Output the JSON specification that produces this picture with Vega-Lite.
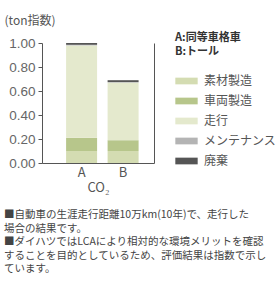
{
  "$schema": "https://vega.github.io/schema/vega-lite/v6.json",
  "autosize": {"type": "none"},
  "padding": {"left": 42, "top": 43, "right": 121, "bottom": 120},
  "width": 112,
  "height": 120,
  "background": "white",
  "config": {
    "font": "Noto Sans CJK JP",
    "view": {"stroke": null}
  },
  "title": {
    "text": [
      "■自動車の生涯走行距離10万km(10年)で、走行した",
      "場合の結果です。",
      "■ダイハツではLCAにより相対的な環境メリットを確認",
      "することを目的としているため、評価結果は指数で示し",
      "ています。"
    ],
    "orient": "bottom",
    "anchor": "start",
    "frame": "group",
    "dx": -38,
    "offset": 16,
    "fontSize": 10.5,
    "fontWeight": "normal",
    "color": "#444",
    "lineHeight": 13.6,
    "baseline": "top"
  },
  "data": {
    "values": [
      {"car": "A", "item": "素材製造", "ord": 1, "value": 0.10},
      {"car": "A", "item": "車両製造", "ord": 2, "value": 0.11},
      {"car": "A", "item": "走行", "ord": 3, "value": 0.77},
      {"car": "A", "item": "メンテナンス", "ord": 4, "value": 0.005},
      {"car": "A", "item": "廃棄", "ord": 5, "value": 0.015},
      {"car": "B", "item": "素材製造", "ord": 1, "value": 0.10},
      {"car": "B", "item": "車両製造", "ord": 2, "value": 0.09},
      {"car": "B", "item": "走行", "ord": 3, "value": 0.48},
      {"car": "B", "item": "メンテナンス", "ord": 4, "value": 0.005},
      {"car": "B", "item": "廃棄", "ord": 5, "value": 0.015}
    ]
  },
  "layer": [
    {
      "mark": {"type": "bar"},
      "encoding": {
        "x": {
          "field": "car",
          "type": "nominal",
          "scale": {"paddingInner": 0.253, "paddingOuter": 0.476, "align": 0.61},
          "axis": {
            "title": "CO₂",
            "titleFontSize": 13,
            "titleFontWeight": "normal",
            "titleColor": "#555",
            "titlePadding": 2,
            "labelAngle": 0,
            "labelFontSize": 13,
            "labelColor": "#555",
            "labelPadding": 3,
            "ticks": false,
            "domainColor": "#555",
            "domainWidth": 1
          }
        },
        "y": {
          "field": "value",
          "type": "quantitative",
          "stack": "zero",
          "scale": {"domain": [0, 1]},
          "axis": {
            "title": "(ton指数)",
            "titleAngle": 0,
            "titleAlign": "left",
            "titleBaseline": "middle",
            "titleX": -38,
            "titleY": -23,
            "titleFontSize": 12,
            "titleFontWeight": "normal",
            "titleColor": "#555",
            "values": [0, 0.2, 0.4, 0.6, 0.8, 1.0],
            "format": ".2f",
            "labelFontSize": 13.5,
            "labelColor": "#666",
            "labelFont": "Liberation Sans",
            "labelPadding": 3,
            "tickSize": 4,
            "tickColor": "#555",
            "domainColor": "#555",
            "grid": false
          }
        },
        "color": {
          "field": "item",
          "type": "nominal",
          "scale": {
            "domain": ["素材製造", "車両製造", "走行", "メンテナンス", "廃棄"],
            "range": ["#d4dcb2", "#b7c68b", "#e4e9cd", "#b4b4b4", "#555555"]
          },
          "legend": {
            "title": ["A:同等車格車", "B:トール"],
            "titleFontSize": 11,
            "titleFontWeight": "bold",
            "titleColor": "#333",
            "titleLineHeight": 13.5,
            "titlePadding": 13,
            "orient": "none",
            "legendX": 133,
            "legendY": -11,
            "symbolType": "M-1,-0.3H1V0.3H-1Z",
            "symbolSize": 500,
            "symbolStrokeWidth": 0,
            "labelFontSize": 12,
            "labelColor": "#555",
            "labelOffset": 6,
            "rowPadding": 2
          }
        },
        "order": {"field": "ord", "type": "quantitative"}
      }
    },
    {
      "mark": {"type": "rule", "strokeOpacity": 0},
      "encoding": {
        "y": {
          "datum": 0,
          "type": "quantitative",
          "axis": {
            "orient": "right",
            "labels": false,
            "ticks": false,
            "title": null,
            "grid": false,
            "domainColor": "#555"
          }
        }
      }
    }
  ],
  "resolve": {"axis": {"y": "independent"}}
}
